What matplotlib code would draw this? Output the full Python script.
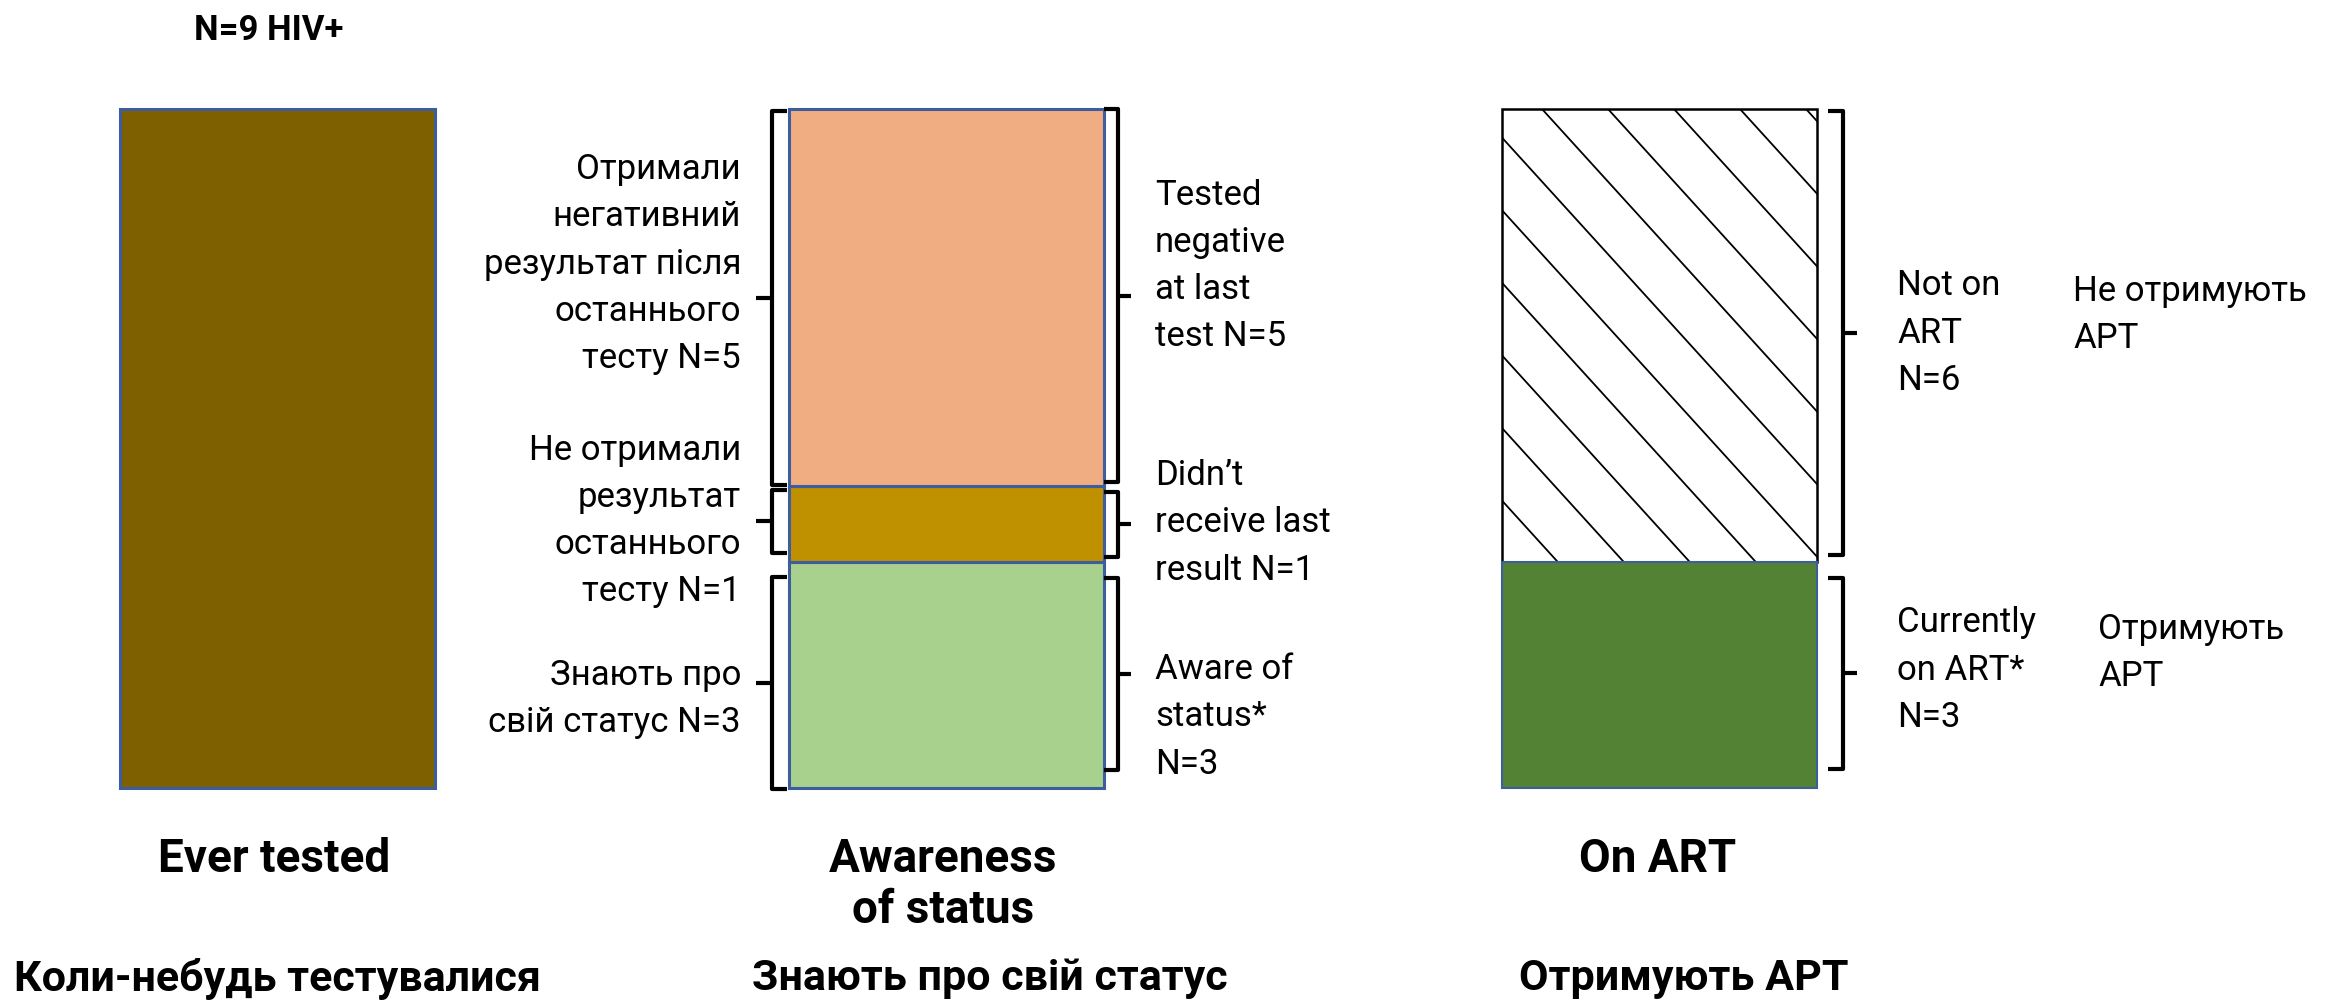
import matplotlib.pyplot as plt
import numpy as np

plt.rcParams['font.family'] = ['Roboto', 'DejaVu Sans']

# ---- data ----
total_label = "N=9 HIV+"
bar_titles = ["Ever tested", "Awareness\nof status", "On ART"]
bar_titles_uk = ["Коли-небудь тестувалися", "Знають про свій статус", "Отримують АРТ"]

ever_tested = [9]
# awareness, stacked from the bottom
aware_counts = [3, 1, 5]
aware_colors = ["#A9D18E", "#BF9000", "#F0AD81"]
aware_en = ["Aware of\nstatus*\nN=3", "Didn’t\nreceive last\nresult N=1", "Tested\nnegative\nat last\ntest N=5"]
aware_uk = ["Знають про\nсвій статус N=3", "Не отримали\nрезультат\nостаннього\nтесту N=1",
            "Отримали\nнегативний\nрезультат після\nостаннього\nтесту N=5"]
# on ART, stacked from the bottom
art_counts = [3, 6]
art_en = ["Currently\non ART*\nN=3", "Not on\nART\nN=6"]
art_uk = ["Отримують\nАРТ", "Не отримують\nАРТ"]

# ---- layout (pixels) ----
W, H = 2343, 1003
base_px, top_px = 789, 110
ppc = (base_px - top_px) / 9.0


def yd(p):
    return (base_px - p) / ppc


def ypx(v):
    return base_px - v * ppc


centers = [277.5, 946, 1659]
bw = 315
edge_blue = "#3C5E9E"

fig = plt.figure(figsize=(W / 100, H / 100), dpi=100)
ax = fig.add_axes([0, 0, 1, 1])
ax.set_xlim(0, W)
ax.set_ylim(yd(H), yd(0))
ax.axis("off")

# bar 1
ax.bar(centers[0], ever_tested[0], width=bw, color="#7F6000", edgecolor=edge_blue, linewidth=2.2)

# bar 2
bottoms2 = np.concatenate([[0], np.cumsum(aware_counts)[:-1]])
ax.bar([centers[1]] * 3, aware_counts, bottom=bottoms2, width=bw, color=aware_colors,
       edgecolor=edge_blue, linewidth=2.2)

# bar 3: hatched top first so the green edge sits on the boundary
bottoms3 = np.concatenate([[0], np.cumsum(art_counts)[:-1]])
hb = ax.bar(centers[2], art_counts[1], bottom=bottoms3[1], width=bw, color="white",
            edgecolor="black", linewidth=1.8, zorder=2)
ax.bar(centers[2], art_counts[0], bottom=bottoms3[0], width=bw, color="#548235",
       edgecolor=edge_blue, linewidth=1.5, zorder=3)

# hatch lines, drawn wide and clipped to the white segment
rect = hb.patches[0]
y_top = ypx(bottoms3[1] + art_counts[1])
y_bot = ypx(bottoms3[1])
slope = 1.1
for x0 in np.arange(1542 - 66 * 9, centers[2] + bw / 2 + 10, 66):
    xs = [x0, x0 + (y_bot - y_top) / slope]
    line, = ax.plot(xs, [yd(y_top), yd(y_bot)], color="black", lw=1.3, zorder=2.5)
    line.set_clip_path(rect)


def brace(x_v, x_hook, x_tip, p0, p1, lw=3.0):
    mid = (p0 + p1) / 2
    ax.plot([x_hook, x_v, x_v, x_hook], [yd(p0), yd(p0), yd(p1), yd(p1)],
            color="black", lw=lw, solid_joinstyle="round", solid_capstyle="butt")
    ax.plot([x_v, x_tip], [yd(mid), yd(mid)], color="black", lw=lw, solid_capstyle="butt")


# brace extents from segment bounds (with small insets)
seg2 = [(ypx(b + c), ypx(b)) for b, c in zip(bottoms2, aware_counts)]
seg3 = [(ypx(b + c), ypx(b)) for b, c in zip(bottoms3, art_counts)]

left_inset = [(15, -1), (4, 9), (2, 1)]
right_inset = [(16, 18), (6, 5), (0, 4)]
for (p0, p1), (a, b) in zip(seg2, left_inset):
    brace(772, 787, 756, p0 + a, p1 - b)
for (p0, p1), (a, b) in zip(seg2, right_inset):
    brace(1118, 1104, 1131, p0 + a, p1 - b)
art_inset = [(16, 19), (2, 7)]
for (p0, p1), (a, b) in zip(seg3, art_inset):
    brace(1843, 1828, 1857, p0 + a, p1 - b)

fs = 25
ls = 1.55
# left labels of bar 2 (Ukrainian)
uk_centers = [699, 521, 264]
for txt, p in zip(aware_uk, uk_centers):
    ax.text(741, yd(p), txt, ha="right", va="center", fontsize=fs, linespacing=ls)
# right labels of bar 2 (English)
en_centers = [717, 523, 266]
for txt, p in zip(aware_en, en_centers):
    ax.text(1155, yd(p), txt, ha="left", va="center", fontsize=fs, linespacing=ls)
# bar 3 labels
art_en_centers = [670, 333]
for txt, p in zip(art_en, art_en_centers):
    ax.text(1897, yd(p), txt, ha="left", va="center", fontsize=fs, linespacing=ls)
art_uk_x = [2098, 2073]
art_uk_centers = [653, 315]
for txt, x, p in zip(art_uk, art_uk_x, art_uk_centers):
    ax.text(x, yd(p), txt, ha="left", va="center", fontsize=fs, linespacing=ls)

# titles
ax.text(269, yd(30), total_label, ha="center", va="center", fontsize=25, fontweight="bold")
title_x = [274, 943, 1658]
title_p = [859, 885, 859]
for txt, x, p in zip(bar_titles, title_x, title_p):
    ax.text(x, yd(p), txt, ha="center", va="center", fontsize=33, fontweight="bold", linespacing=1.2)
uk_x = [278, 990, 1684]
for txt, x in zip(bar_titles_uk, uk_x):
    ax.text(x, yd(979), txt, ha="center", va="center", fontsize=31, fontweight="bold")

fig.savefig("out.png", dpi=100)
